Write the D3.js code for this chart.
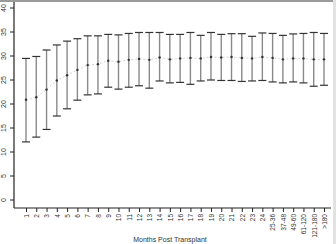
<!DOCTYPE html>
<html>
<head>
<meta charset="utf-8">
<script src="https://cdn.jsdelivr.net/npm/d3@7"></script>
<style>
body { margin: 0; background: #fff; }
text { font-family: "Liberation Sans", Arial, sans-serif; fill: #333; }
</style>
</head>
<body>
<div id="chart"></div>
<script>
var categories = ["1","2","3","4","5","6","7","8","9","10","11","12","13","14","15","16","17","18","19","20","21","22","23","24","25-36","37-48","49-60","61-120","121-180",">180"];
var means = [20.9,21.4,23.0,24.9,26.0,27.1,28.1,28.3,29.0,28.8,29.2,29.4,29.2,29.7,29.3,29.5,29.6,29.5,29.8,29.7,29.8,29.6,29.5,29.8,29.6,29.3,29.5,29.5,29.3,29.3];
var lows = [12.1,13.1,14.7,17.5,19.0,20.8,21.9,22.1,23.5,23.1,23.5,23.8,23.3,24.8,24.4,24.5,24.1,24.8,25.0,24.9,24.9,24.7,24.8,24.9,24.6,24.4,24.6,24.4,23.7,23.9];
var highs = [29.5,29.9,31.25,32.3,33.1,33.6,34.2,34.2,34.5,34.4,34.7,34.9,34.9,34.9,34.5,34.5,34.9,34.3,34.9,34.5,34.65,34.65,34.1,34.8,34.7,34.3,34.6,34.7,34.9,34.7];
var yTicks = [0,5,10,15,20,25,30,35,40];

var width = 336, height = 244;

var svg = d3.select("#chart")
    .append("svg")
    .attr("width", width)
    .attr("height", height);

// frame bits of the cropped figure
svg.append("rect").attr("x", 0).attr("y", 0).attr("width", width).attr("height", 2).attr("fill", "#9a9a9a");
svg.append("rect").attr("x", 333).attr("y", 0).attr("width", 3).attr("height", height).attr("fill", "#e2e2e2");

var x = d3.scalePoint()
    .domain(categories)
    .range([26, 324]);

var y = d3.scaleLinear()
    .domain([0, 40])
    .range([200, 8]);

var axisY = 208, axisX = 14;

// y axis
var yAxis = svg.append("g")
    .attr("transform", "translate(" + axisX + ",0)")
    .call(d3.axisLeft(y).tickValues(yTicks).tickSize(4).tickSizeOuter(0));
yAxis.select(".domain").remove();
yAxis.selectAll("line").attr("stroke", "#222");
yAxis.selectAll("text")
    .attr("x", 0).attr("dy", 0)
    .attr("transform", function(d) { return "translate(-8," + y(d) + ") rotate(-90)"; })
    .attr("y", 0)
    .style("text-anchor", "middle")
    .style("font-size", "7px")
    .attr("fill", "#333");
yAxis.selectAll(".tick").attr("transform", null);
yAxis.selectAll(".tick line").attr("y1", function(d) { return y(d); }).attr("y2", function(d) { return y(d); });
svg.append("line")
    .attr("x1", axisX).attr("x2", axisX)
    .attr("y1", 2).attr("y2", axisY)
    .attr("stroke", "#222").attr("stroke-width", 1.2);

// x axis
var xAxis = svg.append("g")
    .attr("transform", "translate(0," + axisY + ")")
    .call(d3.axisBottom(x).tickSize(4).tickSizeOuter(0));
xAxis.select(".domain").remove();
xAxis.selectAll("line").attr("stroke", "#222");
xAxis.selectAll("text")
    .attr("transform", "rotate(-90)")
    .attr("x", -6).attr("y", 0).attr("dy", "0.35em")
    .style("text-anchor", "end")
    .style("font-size", "6.5px")
    .attr("fill", "#333");
svg.append("line")
    .attr("x1", axisX).attr("x2", 331)
    .attr("y1", axisY).attr("y2", axisY)
    .attr("stroke", "#222").attr("stroke-width", 1.2);

svg.append("text")
    .attr("x", 170).attr("y", 242)
    .style("text-anchor", "middle")
    .style("font-size", "7px")
    .text("Months Post Transplant");

var data = categories.map(function(c, i) {
    return {cat: c, mean: means[i], low: lows[i], high: highs[i]};
});

// dotted line through means
svg.append("path")
    .datum(data)
    .attr("fill", "none")
    .attr("stroke", "#c8c8c8")
    .attr("stroke-width", 0.8)
    .attr("stroke-dasharray", "2,2")
    .attr("d", d3.line().x(function(d) { return x(d.cat); }).y(function(d) { return y(d.mean); }));

var bars = svg.append("g").selectAll("g")
    .data(data)
    .enter()
    .append("g");

bars.append("line")
    .attr("x1", function(d) { return x(d.cat); })
    .attr("x2", function(d) { return x(d.cat); })
    .attr("y1", function(d) { return y(d.low); })
    .attr("y2", function(d) { return y(d.high); })
    .attr("stroke", "#8a8a8a")
    .attr("stroke-width", 1.4);

bars.append("line")
    .attr("x1", function(d) { return x(d.cat) - 4; })
    .attr("x2", function(d) { return x(d.cat) + 4; })
    .attr("y1", function(d) { return y(d.high); })
    .attr("y2", function(d) { return y(d.high); })
    .attr("stroke", "#333")
    .attr("stroke-width", 1.2);

bars.append("line")
    .attr("x1", function(d) { return x(d.cat) - 4; })
    .attr("x2", function(d) { return x(d.cat) + 4; })
    .attr("y1", function(d) { return y(d.low); })
    .attr("y2", function(d) { return y(d.low); })
    .attr("stroke", "#333")
    .attr("stroke-width", 1.2);

bars.append("circle")
    .attr("cx", function(d) { return x(d.cat); })
    .attr("cy", function(d) { return y(d.mean); })
    .attr("r", 1.2)
    .attr("fill", "#333");
</script>
</body>
</html>
